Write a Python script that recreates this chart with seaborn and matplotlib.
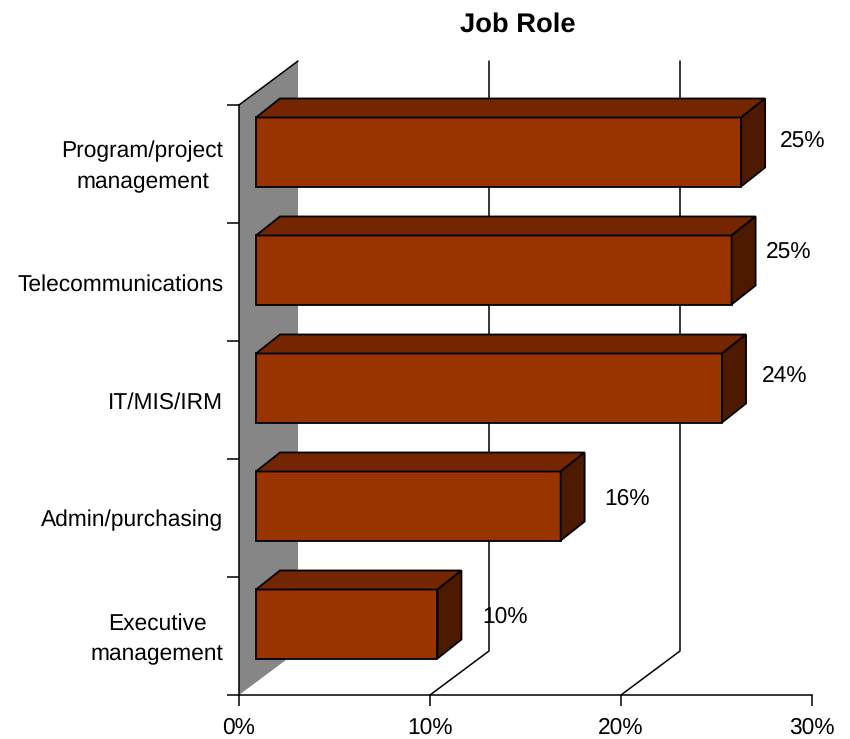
import matplotlib
matplotlib.use("Agg")
import matplotlib.pyplot as plt
from matplotlib.patches import Polygon
from matplotlib.transforms import Affine2D
import pandas as pd
import seaborn as sns

roles = ["Program/project\nmanagement", "Telecommunications", "IT/MIS/IRM",
         "Admin/purchasing", "Executive\nmanagement"]
shares = [25.4, 24.9, 24.4, 15.95, 9.5]
share_labels = ["25%", "25%", "24%", "16%", "10%"]
x_ticks = [0, 10, 20, 30]
x_tick_labels = ["0%", "10%", "20%", "30%"]
grid_ticks = [10, 20]

sns.set_style("white")
plt.rcParams["font.family"] = ["Liberation Sans", "DejaVu Sans"]
plt.rcParams["font.size"] = 16.4
plt.rcParams["text.hinting"] = "no_hinting"

W, H = 850, 739
fig = plt.figure(figsize=(W / 100, H / 100), dpi=100)
ax = fig.add_axes([239 / W, 1 - 695 / H, 573 / W, 590 / H])

df = pd.DataFrame({"role": roles, "share": shares})
sns.barplot(data=df, x="share", y="role", color="#993300", saturation=1,
            width=0.585, edgecolor="black", linewidth=1.3, ax=ax, zorder=5)

ax.set_xlim(0, 30)
ax.set_ylim(4.5, -0.5)
ax.set_xlabel("")
ax.set_ylabel("")

# pixel sizes to data units, the fake 3d is all offsets
sx = 30 / 573
sy = 5 / 590
wall_x, wall_y = 59 * sx, -44 * sy
front_x, front_y = 17 * sx, -12 * sy
depth_x, depth_y = 24 * sx, -19 * sy

# back wall
ax.add_patch(Polygon([(0, 4.5), (wall_x, 4.5 + wall_y), (wall_x, -0.5 + wall_y), (0, -0.5)],
                     facecolor="#868686", edgecolor="none", clip_on=False, zorder=1))
ax.plot([0, wall_x], [-0.5, -0.5 + wall_y], color="black", lw=1.1, clip_on=False, zorder=2)

for t in grid_ticks:
    ax.plot([t, t + wall_x, t + wall_x], [4.5, 4.5 + wall_y, -0.5 + wall_y],
            color="black", lw=1.1, clip_on=False, zorder=2)

# move front faces forward, then add top and side
label_off = [(61, -11.5), (57, -18), (63, -12), (66, -7), (68, -7)]
for bar, txt, off in zip(ax.patches, share_labels, label_off):
    bar.set_x(front_x)
    bar.set_y(bar.get_y() + front_y)
    bar.set_clip_on(False)
    x0 = bar.get_x()
    x1 = x0 + bar.get_width()
    y0 = bar.get_y()
    y1 = y0 + bar.get_height()
    ax.add_patch(Polygon([(x0, y0), (x0 + depth_x, y0 + depth_y), (x1 + depth_x, y0 + depth_y), (x1, y0)],
                         facecolor="#732600", edgecolor="black", lw=1.3, clip_on=False, zorder=5))
    ax.add_patch(Polygon([(x1, y0), (x1 + depth_x, y0 + depth_y), (x1 + depth_x, y1 + depth_y), (x1, y1)],
                         facecolor="#4d1a00", edgecolor="black", lw=1.3, clip_on=False, zorder=5))
    ax.annotate(txt, (x1, (y0 + y1) / 2), xytext=(off[0], -off[1]), textcoords="offset pixels",
                ha="center", va="center", fontsize=16.4, color="black", zorder=6)

# ticks sit on the category borders, labels in between
ax.set_yticks([i - 0.5 for i in range(len(roles) + 1)], minor=True)
ax.tick_params(axis="y", which="major", length=0, pad=11.2, labelsize=16.4, labelcolor="black")
ax.tick_params(axis="y", which="minor", left=True, length=8.6, width=1.1, color="black")
for lab in ax.get_yticklabels():
    lab.set_multialignment("center")
    lab.set_linespacing(1.55)
    if "\n" in lab.get_text():
        lab.set_verticalalignment("center")
        lab.set_transform(lab.get_transform() + Affine2D().translate(0, -3))

ax.set_xticks(x_ticks, x_tick_labels)
ax.tick_params(axis="x", bottom=True, length=8, width=1.1, color="black", pad=7.8,
               labelsize=16.4, labelcolor="black")

for side in ["top", "right"]:
    ax.spines[side].set_visible(False)
for side in ["left", "bottom"]:
    ax.spines[side].set_color("black")
    ax.spines[side].set_linewidth(1.1)
    ax.spines[side].set_zorder(3)

fig.text(518 / W, 1 - 25 / H, "Job Role", ha="center", va="center",
         fontsize=19.7, fontweight="bold", color="black")

fig.savefig("out.png", dpi=100)
